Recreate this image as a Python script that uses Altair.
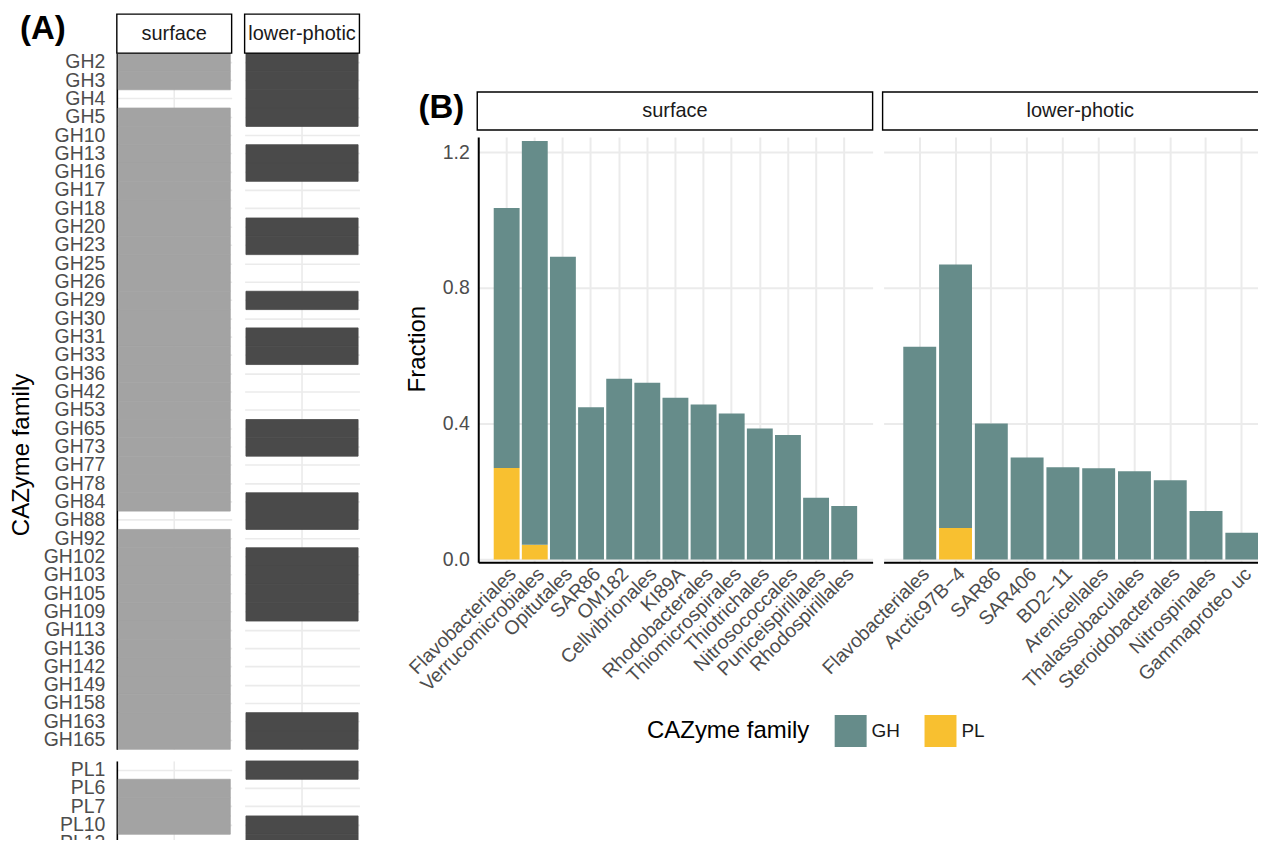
import altair as alt
import pandas as pd

FONT = "Liberation Sans"

# ---------------- Panel A data ----------------
gh_families = ["GH2", "GH3", "GH4", "GH5", "GH10", "GH13", "GH16", "GH17", "GH18", "GH20",
               "GH23", "GH25", "GH26", "GH29", "GH30", "GH31", "GH33", "GH36", "GH42", "GH53",
               "GH65", "GH73", "GH77", "GH78", "GH84", "GH88", "GH92", "GH102", "GH103", "GH105",
               "GH109", "GH113", "GH136", "GH142", "GH149", "GH158", "GH163", "GH165"]
gh_surface = [1, 1, 0, 1, 1, 1, 1, 1, 1, 1,
              1, 1, 1, 1, 1, 1, 1, 1, 1, 1,
              1, 1, 1, 1, 1, 0, 1, 1, 1, 1,
              1, 1, 1, 1, 1, 1, 1, 1]
gh_lower = [1, 1, 1, 1, 0, 1, 1, 0, 0, 1,
            1, 0, 0, 1, 0, 1, 1, 0, 0, 0,
            1, 1, 0, 0, 1, 1, 0, 1, 1, 1,
            1, 0, 0, 0, 0, 0, 1, 1]
pl_families = ["PL1", "PL6", "PL7", "PL10", "PL12"]
pl_surface = [0, 1, 1, 1, 0]
pl_lower = [1, 0, 0, 1, 1]

depths = ["surface", "lower-photic"]
panel_tags = ["(A)", "(B)"]

# ---------------- Panel B data ----------------
surf_orders = ["Flavobacteriales", "Verrucomicrobiales", "Opitutales", "SAR86", "OM182",
               "Cellvibrionales", "KI89A", "Rhodobacterales", "Thiomicrospirales",
               "Thiotrichales", "Nitrosococcales", "Puniceispirillales", "Rhodospirillales"]
surf_gh = [0.766, 1.189, 0.892, 0.449, 0.533, 0.521, 0.477, 0.457, 0.430, 0.386, 0.367, 0.182, 0.158]
surf_pl = [0.270, 0.044, 0, 0, 0, 0, 0, 0, 0, 0, 0, 0, 0]

low_orders = ["Flavobacteriales", "Arctic97B\u22124", "SAR86", "SAR406", "BD2\u221211",
              "Arenicellales", "Thalassobaculales", "Steroidobacterales", "Nitrospinales",
              "Gammaproteo uc"]
low_gh = [0.627, 0.776, 0.401, 0.301, 0.272, 0.269, 0.260, 0.234, 0.143, 0.079]
low_pl = [0, 0.093, 0, 0, 0, 0, 0, 0, 0, 0]

fam_domain = ["GH", "PL"]
fam_colors = ["#668C8A", "#F8C030"]
tile_colors = ["#A3A3A3", "#4A4A4A"]

GRID = "#EBEBEB"
LABEL = "#4D4D4D"

A_W = 115
ROW = 18.35
A_STRIP = 39


def strip_layers(label, width, y0, y1, x0, tag=None, tag_x=0, tag_y=0):
    sdf = pd.DataFrame({"depth": [label]})
    rect = alt.Chart(sdf).mark_rect(fill="white", stroke="black", strokeWidth=1.4).encode(
        x=alt.value(x0), x2=alt.value(width), y=alt.value(y0), y2=alt.value(y1))
    txt = alt.Chart(sdf).mark_text(fontSize=20, color="#1A1A1A", font=FONT,
                                   baseline="middle", align="center").encode(
        text="depth:N", x=alt.value((x0 + width) / 2), y=alt.value((y0 + y1) / 2))
    layers = [rect, txt]
    if tag is not None:
        tdf = pd.DataFrame({"tag": [tag]})
        layers.append(alt.Chart(tdf).mark_text(fontSize=33, fontWeight="bold", color="black",
                                               font=FONT, baseline="middle", align="center").encode(
            text="tag:N", x=alt.value(tag_x), y=alt.value(tag_y)))
    return layers


def tile_panel(families, present, depth, color, show_axis, title=None):
    fam = [f for f, p in zip(families, present) if p]
    df = pd.DataFrame({"family": fam, "depth": [depth] * len(fam)})
    yaxis_kw = dict(ticks=False, grid=True, gridColor=GRID, gridWidth=1.6, zindex=0,
                    labels=show_axis, domain=show_axis, domainColor="black", domainWidth=1.6,
                    labelFontSize=19.5, labelColor=LABEL, labelPadding=12, labelFont=FONT)
    if title:
        yaxis_kw.update(title=title, titleFontSize=24, titleFontWeight="normal",
                        titleColor="black", titleFont=FONT, titleX=-88,
                        titleY=402, titleBaseline="alphabetic", titleAngle=270)
    else:
        yaxis_kw.update(title=None)
    return alt.Chart(df).mark_rect(color=color, stroke=color, strokeWidth=0.8).encode(
        x=alt.X("depth:N", scale=alt.Scale(paddingInner=0, paddingOuter=0.012),
                axis=alt.Axis(labels=False, ticks=False, domain=False, grid=True, zindex=0,
                              gridColor=GRID, gridWidth=1.6, title=None)),
        y=alt.Y("family:N", sort=families,
                scale=alt.Scale(domain=families, paddingInner=0, paddingOuter=0),
                axis=alt.Axis(**yaxis_kw)),
    ).properties(width=A_W, height=ROW * len(families))


def a_column(i):
    depth = depths[i]
    gh_present = gh_surface if i == 0 else gh_lower
    pl_present = pl_surface if i == 0 else pl_lower
    gh = tile_panel(gh_families, gh_present, depth, tile_colors[i], i == 0,
                    "CAZyme family" if i == 0 else None)
    strips = strip_layers(depth, A_W, -A_STRIP, 0, 0,
                          tag=panel_tags[0] if i == 0 else None, tag_x=-74, tag_y=-24)
    top = alt.layer(gh, *strips)
    pl = tile_panel(pl_families, pl_present, depth, tile_colors[i], i == 0)
    return alt.vconcat(top, pl, spacing=11, bounds="flush")


# ---------------- Panel B ----------------
B_W = 395
B_H = 426
Y_DOMAIN = [-0.008, 1.245]

legend = alt.Legend(title="CAZyme family", orient="none", legendX=531, legendY=663,
                    direction="horizontal", titleOrient="left", symbolType="square",
                    symbolSize=1024, symbolStrokeWidth=0, labelFontSize=19,
                    labelColor="#1A1A1A", labelFont=FONT, titleFont=FONT,
                    titleFontSize=24, titleFontWeight="normal", titleColor="black",
                    columnPadding=24, titlePadding=25, labelOffset=5,
                    titleAnchor="middle", titleBaseline="middle")


def bar_panel(i, orders, gh_vals, pl_vals):
    rows = []
    for o, g, p in zip(orders, gh_vals, pl_vals):
        if p > 0:
            rows.append({"order": o, "family": "PL", "value": p, "k": 0})
        rows.append({"order": o, "family": "GH", "value": g, "k": 1})
    df = pd.DataFrame(rows)
    first = i == 0
    yaxis = alt.Axis(values=[0, 0.4, 0.8, 1.2], format=".1f", ticks=False, grid=True,
                     gridColor=GRID, gridWidth=2, labels=first, domain=first,
                     domainColor="black", domainWidth=2, labelFontSize=19.5,
                     labelColor=LABEL, labelPadding=9, labelFont=FONT,
                     title="Fraction" if first else None, titleFontSize=24,
                     titleFontWeight="normal", titleColor="black", titleFont=FONT,
                     titleX=-54, titleY=B_H / 2 - 1, titleBaseline="alphabetic",
                     titleAngle=270)
    bars = alt.Chart(df).mark_bar().encode(
        x=alt.X("order:N", sort=orders,
                scale=alt.Scale(domain=orders, paddingInner=0.08, paddingOuter=0.55),
                axis=alt.Axis(title=None, labelAngle=-45, labelAlign="right",
                              labelBaseline="top", ticks=False, grid=True, gridColor=GRID,
                              gridWidth=2, domainColor="black", domainWidth=2,
                              labelFontSize=19.5, labelColor=LABEL, labelFont=FONT,
                              labelPadding=2, labelLimit=400)),
        y=alt.Y("value:Q", stack="zero",
                scale=alt.Scale(domain=Y_DOMAIN, nice=False, zero=False), axis=yaxis),
        color=alt.Color("family:N", scale=alt.Scale(domain=fam_domain, range=fam_colors),
                        legend=legend),
        order=alt.Order("k:Q", sort="ascending"),
    ).properties(width=B_W, height=B_H)
    strips = strip_layers(depths[i], B_W, -45, -7, -1,
                          tag=panel_tags[1] if first else None, tag_x=-37, tag_y=-29)
    return alt.layer(bars, *strips)


spacer = alt.Chart(pd.DataFrame({"v": [0]})).mark_rect(opacity=0).encode(
    x=alt.value(0), x2=alt.value(2), y=alt.value(0), y2=alt.value(38)
).properties(width=2, height=38)

panel_a = alt.hconcat(a_column(0), a_column(1), spacing=11)
panel_b = alt.vconcat(
    spacer,
    alt.hconcat(bar_panel(0, surf_orders, surf_gh, surf_pl),
                bar_panel(1, low_orders, low_gh, low_pl), spacing=11, bounds="flush"),
    spacing=0)

chart = alt.hconcat(panel_a, panel_b, spacing=44).properties(
    padding={"left": 2, "top": 4.5, "right": -21, "bottom": -15}
).configure(font=FONT).configure_view(stroke=None)

chart.save("out.html", embed_options={"renderer": "svg", "actions": False})
